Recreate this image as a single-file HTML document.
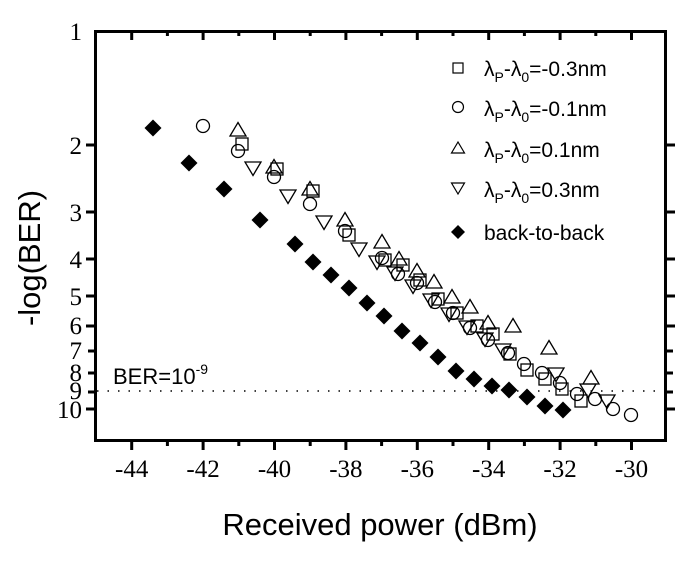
<!DOCTYPE html>
<html><head><meta charset="utf-8"><style>
html,body{margin:0;padding:0;background:#fff;}
svg{display:block;}
.s{font-family:"Liberation Serif",serif;font-size:25px;fill:#000;}
.a{font-family:"Liberation Sans",sans-serif;fill:#000;}
</style></head><body>
<svg width="687" height="588" viewBox="0 0 687 588" xmlns="http://www.w3.org/2000/svg">
<defs>
<rect id="sq" x="-6" y="-6" width="12" height="12" fill="none" stroke="#000" stroke-width="1.3"/>
<circle id="ci" r="6.5" fill="none" stroke="#000" stroke-width="1.3"/>
<polygon id="up" points="0,-7.5 8,6 -8,6" fill="none" stroke="#000" stroke-width="1.3"/>
<polygon id="dn" points="0,7.5 8,-6 -8,-6" fill="none" stroke="#000" stroke-width="1.3"/>
<polygon id="di" points="0,-8.5 8.5,0 0,8.5 -8.5,0" fill="#000"/>
</defs>
<!-- dotted line -->
<line x1="97" y1="391" x2="664" y2="391" stroke="#000" stroke-width="1.5" stroke-dasharray="1.5,9"/>
<!-- axes -->
<rect x="95.5" y="31.5" width="570" height="409" fill="none" stroke="#000" stroke-width="3"/>
<g stroke="#000" stroke-width="3">
<!-- x major ticks outward bottom, inward top -->
<line x1="131.7" y1="441" x2="131.7" y2="450"/><line x1="203.1" y1="441" x2="203.1" y2="450"/><line x1="274.5" y1="441" x2="274.5" y2="450"/><line x1="345.9" y1="441" x2="345.9" y2="450"/><line x1="417.3" y1="441" x2="417.3" y2="450"/><line x1="488.7" y1="441" x2="488.7" y2="450"/><line x1="560.1" y1="441" x2="560.1" y2="450"/><line x1="631.5" y1="441" x2="631.5" y2="450"/>
<line x1="167.4" y1="441" x2="167.4" y2="446"/><line x1="238.8" y1="441" x2="238.8" y2="446"/><line x1="310.2" y1="441" x2="310.2" y2="446"/><line x1="381.6" y1="441" x2="381.6" y2="446"/><line x1="453" y1="441" x2="453" y2="446"/><line x1="524.4" y1="441" x2="524.4" y2="446"/><line x1="595.8" y1="441" x2="595.8" y2="446"/>
<line x1="131.7" y1="31" x2="131.7" y2="40"/><line x1="203.1" y1="31" x2="203.1" y2="40"/><line x1="274.5" y1="31" x2="274.5" y2="40"/><line x1="345.9" y1="31" x2="345.9" y2="40"/><line x1="417.3" y1="31" x2="417.3" y2="40"/><line x1="488.7" y1="31" x2="488.7" y2="40"/><line x1="560.1" y1="31" x2="560.1" y2="40"/><line x1="631.5" y1="31" x2="631.5" y2="40"/>
<line x1="167.4" y1="31" x2="167.4" y2="36"/><line x1="238.8" y1="31" x2="238.8" y2="36"/><line x1="310.2" y1="31" x2="310.2" y2="36"/><line x1="381.6" y1="31" x2="381.6" y2="36"/><line x1="453" y1="31" x2="453" y2="36"/><line x1="524.4" y1="31" x2="524.4" y2="36"/><line x1="595.8" y1="31" x2="595.8" y2="36"/>
<!-- y ticks -->
<line x1="86" y1="145" x2="95" y2="145"/><line x1="86" y1="212" x2="95" y2="212"/><line x1="86" y1="259" x2="95" y2="259"/><line x1="86" y1="296" x2="95" y2="296"/><line x1="86" y1="326" x2="95" y2="326"/><line x1="88" y1="351" x2="95" y2="351"/><line x1="88" y1="373" x2="95" y2="373"/><line x1="88" y1="392" x2="95" y2="392"/><line x1="86" y1="409" x2="95" y2="409"/>
<line x1="666" y1="145" x2="675" y2="145"/><line x1="666" y1="212" x2="675" y2="212"/><line x1="666" y1="259" x2="675" y2="259"/><line x1="666" y1="296" x2="675" y2="296"/><line x1="666" y1="326" x2="675" y2="326"/><line x1="666" y1="351" x2="673" y2="351"/><line x1="666" y1="373" x2="673" y2="373"/><line x1="666" y1="392" x2="673" y2="392"/><line x1="666" y1="409" x2="675" y2="409"/>
</g>
<!-- y labels -->
<g class="s" text-anchor="end">
<text x="82" y="40">1</text><text x="82" y="154">2</text><text x="82" y="221">3</text><text x="82" y="268">4</text><text x="82" y="305">5</text><text x="82" y="334">6</text><text x="82" y="359">7</text><text x="82" y="381">8</text><text x="82" y="399">9</text><text x="82" y="418">10</text>
</g>
<g class="s" text-anchor="middle">
<text x="131.7" y="477">-44</text><text x="203.1" y="477">-42</text><text x="274.5" y="477">-40</text><text x="345.9" y="477">-38</text><text x="417.3" y="477">-36</text><text x="488.7" y="477">-34</text><text x="560.1" y="477">-32</text><text x="631.5" y="477">-30</text>
</g>
<text class="a" x="0" y="0" font-size="31" text-anchor="middle" transform="translate(40,258) rotate(-90)">-log(BER)</text>
<text class="a" x="380" y="535" font-size="31" text-anchor="middle">Received power (dBm)</text>
<text class="a" x="113" y="384" font-size="22">BER=10<tspan dy="-10" font-size="14">-9</tspan></text>
<!-- legend -->
<g transform="translate(458,68)"><rect x="-5" y="-5" width="10" height="10" fill="none" stroke="#000" stroke-width="1.2"/></g>
<g transform="translate(458,107)"><circle r="5.5" fill="none" stroke="#000" stroke-width="1.2"/></g>
<g transform="translate(458,148)"><polygon points="0,-6 6.5,5 -6.5,5" fill="none" stroke="#000" stroke-width="1.2"/></g>
<g transform="translate(458,188)"><polygon points="0,6 6.5,-5 -6.5,-5" fill="none" stroke="#000" stroke-width="1.2"/></g>
<g transform="translate(458,232)"><polygon points="0,-7 7,0 0,7 -7,0" fill="#000"/></g>
<g class="a" font-size="21">
<text x="484" y="76">λ<tspan font-size="14" dy="6">P</tspan><tspan dy="-6">-λ</tspan><tspan font-size="14" dy="6">0</tspan><tspan dy="-6">=-0.3nm</tspan></text>
<text x="484" y="116">λ<tspan font-size="14" dy="6">P</tspan><tspan dy="-6">-λ</tspan><tspan font-size="14" dy="6">0</tspan><tspan dy="-6">=-0.1nm</tspan></text>
<text x="484" y="157">λ<tspan font-size="14" dy="6">P</tspan><tspan dy="-6">-λ</tspan><tspan font-size="14" dy="6">0</tspan><tspan dy="-6">=0.1nm</tspan></text>
<text x="484" y="197">λ<tspan font-size="14" dy="6">P</tspan><tspan dy="-6">-λ</tspan><tspan font-size="14" dy="6">0</tspan><tspan dy="-6">=0.3nm</tspan></text>
<text x="484" y="240">back-to-back</text>
</g>
<!-- data: squares -->
<g>
<use href="#sq" x="242" y="144"/><use href="#sq" x="277" y="169"/><use href="#sq" x="313" y="191"/><use href="#sq" x="349" y="235"/><use href="#sq" x="385" y="260"/><use href="#sq" x="403" y="265"/><use href="#sq" x="420" y="280"/><use href="#sq" x="438" y="299"/><use href="#sq" x="457" y="313"/><use href="#sq" x="477" y="326"/><use href="#sq" x="493" y="334"/><use href="#sq" x="510" y="354"/><use href="#sq" x="527" y="370"/><use href="#sq" x="545" y="379"/><use href="#sq" x="562" y="389"/><use href="#sq" x="581" y="401"/>
</g>
<g>
<use href="#ci" x="203" y="126"/><use href="#ci" x="238" y="151"/><use href="#ci" x="274" y="177"/><use href="#ci" x="310" y="204"/><use href="#ci" x="345" y="231"/><use href="#ci" x="382" y="258"/><use href="#ci" x="398" y="274"/><use href="#ci" x="417" y="283"/><use href="#ci" x="435" y="302"/><use href="#ci" x="453" y="313"/><use href="#ci" x="470" y="328"/><use href="#ci" x="488" y="340"/><use href="#ci" x="508" y="353"/><use href="#ci" x="524" y="364"/><use href="#ci" x="542" y="373"/><use href="#ci" x="560" y="383"/><use href="#ci" x="577" y="394"/><use href="#ci" x="595" y="399"/><use href="#ci" x="613" y="409"/><use href="#ci" x="631" y="415"/>
</g>
<g>
<use href="#up" x="238" y="130"/><use href="#up" x="274" y="167"/><use href="#up" x="310" y="189"/><use href="#up" x="345" y="220"/><use href="#up" x="382" y="242"/><use href="#up" x="399" y="259"/><use href="#up" x="417" y="271"/><use href="#up" x="434" y="282"/><use href="#up" x="452" y="297"/><use href="#up" x="470" y="307"/><use href="#up" x="488" y="323"/><use href="#up" x="513" y="326"/><use href="#up" x="549" y="348"/><use href="#up" x="591" y="378"/>
</g>
<g>
<use href="#dn" x="253" y="168"/><use href="#dn" x="288" y="196"/><use href="#dn" x="324" y="222"/><use href="#dn" x="359" y="249"/><use href="#dn" x="377" y="262"/><use href="#dn" x="395" y="273"/><use href="#dn" x="413" y="286"/><use href="#dn" x="431" y="300"/><use href="#dn" x="449" y="314"/><use href="#dn" x="467" y="327"/><use href="#dn" x="485" y="339"/><use href="#dn" x="503" y="350"/><use href="#dn" x="556" y="374"/><use href="#dn" x="588" y="390"/><use href="#dn" x="607" y="401"/>
</g>
<g>
<use href="#di" x="153" y="128"/><use href="#di" x="189" y="163"/><use href="#di" x="224" y="189"/><use href="#di" x="260" y="220"/><use href="#di" x="295" y="244"/><use href="#di" x="313" y="262"/><use href="#di" x="331" y="275"/><use href="#di" x="349" y="288"/><use href="#di" x="367" y="303"/><use href="#di" x="384" y="316"/><use href="#di" x="402" y="331"/><use href="#di" x="420" y="343"/><use href="#di" x="438" y="357"/><use href="#di" x="456" y="371"/><use href="#di" x="474" y="379"/><use href="#di" x="492" y="386"/><use href="#di" x="509" y="390"/><use href="#di" x="527" y="397"/><use href="#di" x="545" y="406"/><use href="#di" x="563" y="410"/>
</g>
</svg>
</body></html>
